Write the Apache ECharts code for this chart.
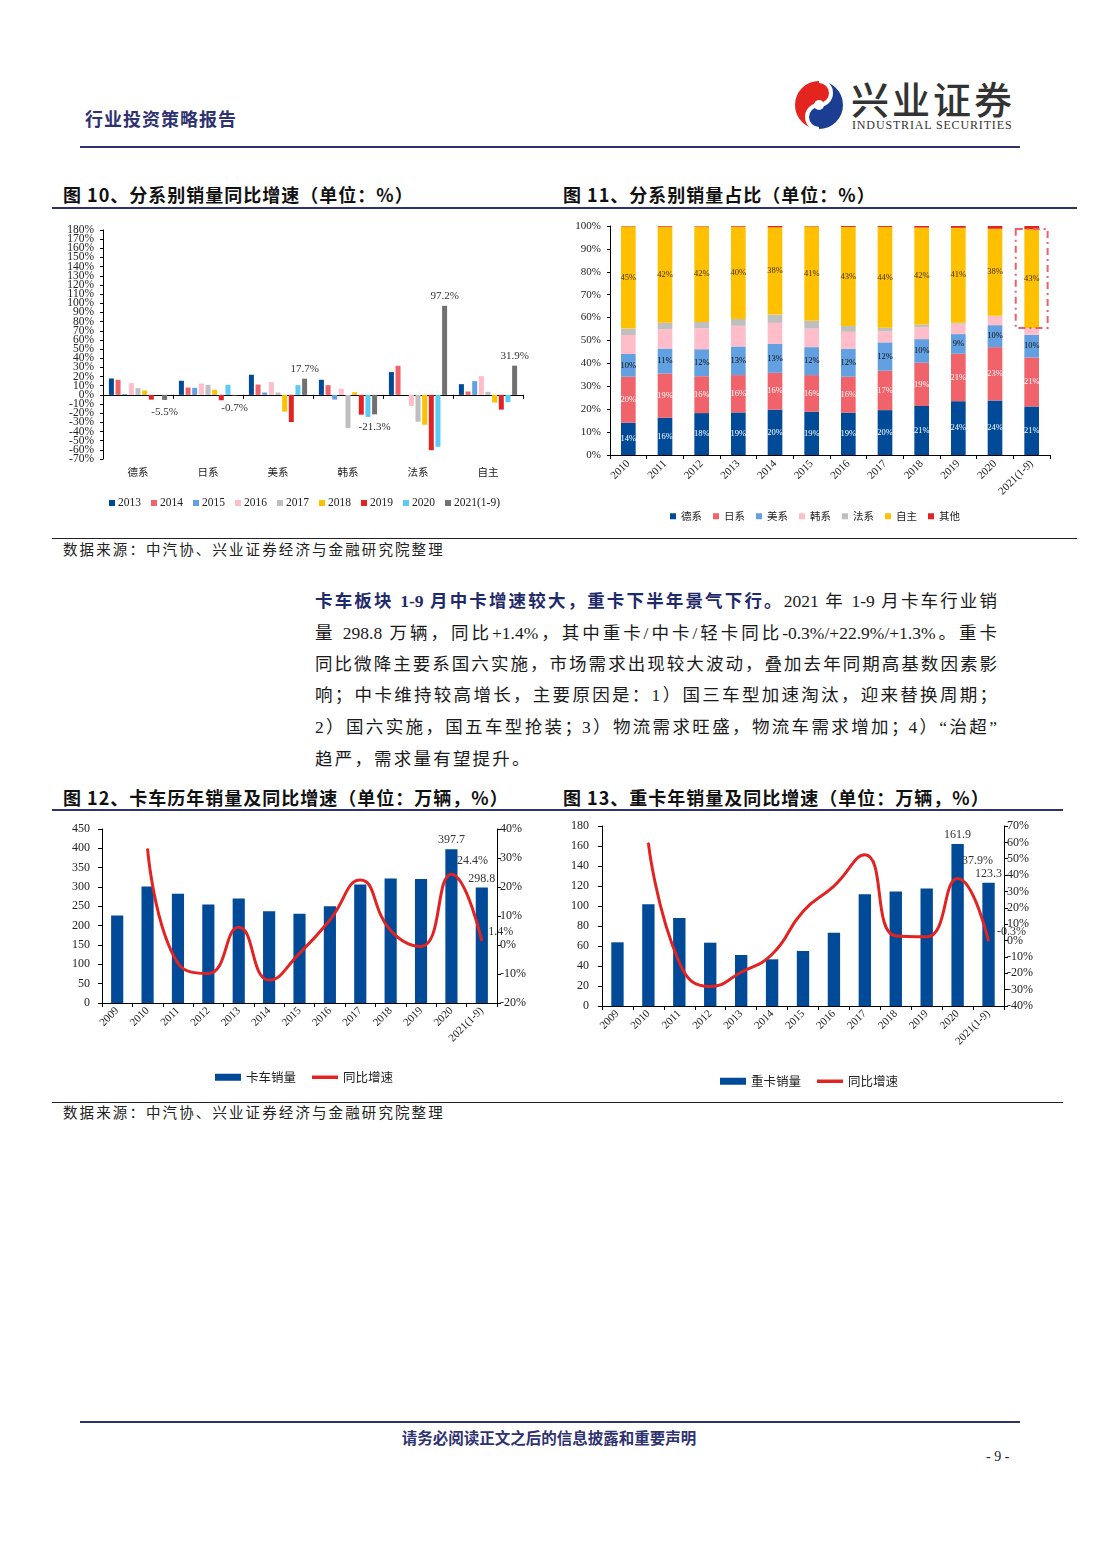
<!DOCTYPE html>
<html><head><meta charset="utf-8">
<script src="https://cdn.jsdelivr.net/npm/echarts@6/dist/echarts.min.js"></script>
<style>
html,body{margin:0;padding:0;background:#fff;}
body{width:1102px;height:1559px;position:relative;overflow:hidden;font-family:"Liberation Serif","Noto Sans CJK SC",serif;color:#111;}
.a{position:absolute;white-space:nowrap;}
.rule{position:absolute;background:#2F3271;}
.thin{position:absolute;background:#222;height:1px;}
.title{position:absolute;font-family:"Noto Sans CJK SC",sans-serif;font-weight:700;font-size:18px;line-height:22px;letter-spacing:1px;color:#111;white-space:nowrap;}
.src{position:absolute;font-family:"Liberation Serif","Noto Sans CJK SC";font-size:14.5px;line-height:20px;letter-spacing:2.1px;color:#222;white-space:nowrap;}
.pl{position:absolute;left:315px;width:682px;font-size:17.5px;line-height:24px;text-align:justify;text-align-last:justify;color:#1a1a1a;font-family:"Liberation Serif","Noto Sans CJK SC";}
.pl b{color:#1F2A6B;font-weight:700;}
.chart{position:absolute;}
</style></head><body>

<div class="a" style="left:85px;top:106px;font-family:'Noto Sans CJK SC';font-weight:700;font-size:18px;line-height:24px;color:#2F3271;letter-spacing:1px;">行业投资策略报告</div>
<svg class="a" style="left:794px;top:80px" width="50" height="50" viewBox="0 0 50 50">
  <path d="M25,1 A24,24 0 0,0 25,49 A12,12 0 0,1 25,25 A12,12 0 0,0 25,1 Z" fill="#E3241F"/>
  <path d="M25,1 A24,24 0 0,1 25,49 A12,12 0 0,1 25,25 A12,12 0 0,0 25,1 Z" fill="#1B3E93"/>
  <path d="M25,1 A12,12 0 0,1 25,25 A12,12 0 0,0 25,49" fill="none" stroke="#fff" stroke-width="4"/>
  <circle cx="25" cy="25" r="5" fill="#fff"/>
</svg>
<div class="a" style="left:851px;top:77px;font-family:'Noto Sans CJK SC';font-weight:500;font-size:38px;line-height:42px;letter-spacing:3px;color:#333;">兴业证券</div>
<div class="a" style="left:852px;top:118px;font-family:'Liberation Serif';font-size:12px;line-height:14px;letter-spacing:0.85px;color:#333;">INDUSTRIAL SECURITIES</div>
<div class="rule" style="left:80px;top:146px;width:940px;height:2px;"></div>

<div class="title" style="left:63px;top:183px;">图 10、分系别销量同比增速（单位：%）</div>
<div class="title" style="left:563px;top:183px;">图 11、分系别销量占比（单位：%）</div>
<div class="rule" style="left:52px;top:207px;width:1025px;height:2px;"></div>

<div id="c10" class="chart" style="left:52px;top:215px;width:480px;height:305px;"></div>
<div id="c11" class="chart" style="left:555px;top:212px;width:520px;height:320px;"></div>

<div class="thin" style="left:52px;top:538px;width:1025px;"></div>
<div class="src" style="left:63px;top:540px;">数据来源：中汽协、兴业证券经济与金融研究院整理</div>

<div class="pl" style="top:589px;"><b>卡车板块 1-9 月中卡增速较大，重卡下半年景气下行。</b>2021 年 1-9 月卡车行业销</div>
<div class="pl" style="top:621px;">量 298.8 万辆，同比+1.4%，其中重卡/中卡/轻卡同比-0.3%/+22.9%/+1.3%。重卡</div>
<div class="pl" style="top:652px;">同比微降主要系国六实施，市场需求出现较大波动，叠加去年同期高基数因素影</div>
<div class="pl" style="top:683px;">响；中卡维持较高增长，主要原因是：1）国三车型加速淘汰，迎来替换周期；</div>
<div class="pl" style="top:715px;">2）国六实施，国五车型抢装；3）物流需求旺盛，物流车需求增加；4）“治超”</div>
<div class="pl" style="top:747px;text-align:left;text-align-last:left;letter-spacing:2.2px;">趋严，需求量有望提升。</div>

<div class="title" style="left:63px;top:786px;">图 12、卡车历年销量及同比增速（单位：万辆，%）</div>
<div class="title" style="left:563px;top:786px;">图 13、重卡年销量及同比增速（单位：万辆，%）</div>
<div class="rule" style="left:52px;top:809px;width:1011px;height:2px;"></div>

<div id="c12" class="chart" style="left:52px;top:815px;width:480px;height:280px;"></div>
<div id="c13" class="chart" style="left:555px;top:812px;width:510px;height:285px;"></div>

<div class="thin" style="left:52px;top:1102px;width:1011px;"></div>
<div class="src" style="left:63px;top:1103px;">数据来源：中汽协、兴业证券经济与金融研究院整理</div>

<div class="rule" style="left:80px;top:1421px;width:940px;height:2px;"></div>
<div class="a" style="left:0;width:1098px;text-align:center;top:1427px;font-family:'Noto Sans CJK SC';font-weight:700;font-size:15.5px;line-height:20px;color:#2F3271;">请务必阅读正文之后的信息披露和重要声明</div>
<div class="a" style="left:986px;top:1448px;font-family:'Liberation Serif';font-size:14px;line-height:18px;color:#222;">- 9 -</div>

<script>
// ---------- Fig 10 data: YoY growth by brand origin (%) ----------
const brands = ['德系','日系','美系','韩系','法系','自主'];
const yoyYears = ['2013','2014','2015','2016','2017','2018','2019','2020','2021(1-9)'];
const yoy2013 = [17.9, 15.4, 22.0, 16.5, 24.9, 11.7];
const yoy2014 = [16.5, 8.0, 11.3, 10.6, 31.8, 3.7];
const yoy2015 = [1.0, 7.7, 2.6, -5.1, 0, 15.0];
const yoy2016 = [12.8, 12.4, 13.9, 6.6, -12.1, 20.5];
const yoy2017 = [7.3, 11.0, 2.6, -36.2, -29.3, 3.3];
const yoy2018 = [4.8, 5.5, -18.3, 2.9, -32.6, -8.4];
const yoy2019 = [-5.2, -5.9, -29.6, -21.6, -60.4, -16.1];
const yoy2020 = [0, 11.0, 10.6, -24.1, -56.7, -8.0];
const yoy2021 = [-5.5, -0.7, 17.7, -21.3, 97.2, 31.9];

// ---------- Fig 11 data: share by brand origin (%) ----------
const shareYears = ['2010','2011','2012','2013','2014','2015','2016','2017','2018','2019','2020','2021(1-9)'];
const shareDE    = [14.1,16.3,18.3,18.6,19.8,18.9,18.5,19.6,21.4,23.5,23.8,21.2];
const shareJP    = [20.1,19.3,16.1,16.3,16.1,16.0,15.7,17.2,18.9,20.7,23.3,21.4];
const shareUS    = [9.9,10.9,11.8,12.5,12.6,12.2,12.2,12.4,10.3,8.6,9.6,9.9];
const shareKR    = [8.3,8.4,9.2,9.0,9.2,8.1,7.4,4.8,5.2,4.5,3.9,2.9];
const shareFR    = [2.8,2.9,2.7,3.0,3.6,3.4,2.5,1.6,1.2,0.5,0.2,0.1];
const shareOwn   = [44.6,41.9,41.7,40.3,38.1,41.2,43.3,44.0,42.3,41.4,38.0,43.2];
const shareOther = [0.2,0.3,0.2,0.3,0.6,0.2,0.4,0.4,0.7,0.8,1.2,1.3];
const shareNames = ['德系','日系','美系','韩系','法系','自主','其他'];

// ---------- Fig 12 data: truck sales (万辆) & YoY (%) ----------
const truckYears = ['2009','2010','2011','2012','2013','2014','2015','2016','2017','2018','2019','2020','2021(1-9)'];
const truckSales = [226.3,301.4,282.4,254.7,270.3,237.5,230.6,250.4,306.6,322.1,320.4,397.7,298.8];
const truckYoy   = [null,33.2,-6.3,-9.8,6.1,-12.1,-2.9,8.6,22.4,5.0,-0.5,24.4,1.4];

// ---------- Fig 13 data: heavy truck sales (万辆) & YoY (%) ----------
const heavySales = [63.7,101.7,88.0,63.3,51.0,46.7,55.0,73.3,111.7,114.5,117.4,161.9,123.3];
const heavyYoy   = [null,59.7,-13.5,-28.1,-19.4,-8.4,17.8,33.3,52.4,2.8,2.3,37.9,-0.3];

const SERIF = 'Liberation Serif', CJK = 'Noto Sans CJK SC', TXT = '#222';
const axisLineBlack = {show:true, lineStyle:{color:'#000', width:1}};

// ===== Chart 10 =====
(function(){
  const colors = ['#004A97','#F0636A','#63A0E1','#FFBDC9','#BFBFBF','#FFC000','#E32322','#5BCBF5','#717171'];
  const sets = [yoy2013,yoy2014,yoy2015,yoy2016,yoy2017,yoy2018,yoy2019,yoy2020,yoy2021];
  const c = echarts.init(document.getElementById('c10'));
  // labels are split over two stacked left axes (every other tick each) so the dense 10% ticks all stay visible
  const lab = (keepEven)=>({margin:9, hideOverlap:false, fontFamily:SERIF, fontSize:11.5, color:TXT,
    formatter:v=>{ const r=Math.abs(Math.round(v))%20; return (keepEven ? r===0 : r===10) ? v+'%' : ''; }});
  c.setOption({
    animation:false,
    grid:{left:51, top:15, width:420, height:229},
    legend:{top:277, left:52, icon:'rect', itemWidth:6, itemHeight:6, itemGap:10,
      textStyle:{fontFamily:SERIF, fontSize:11.5, color:TXT, padding:[0,0,0,-2]}, data:yoyYears},
    xAxis:[
      {type:'category', data:brands, axisLine:{show:true, onZero:true, onZeroAxisIndex:0, lineStyle:{color:'#000'}},
       axisTick:{show:true, length:4, lineStyle:{color:'#000'}}, axisLabel:{show:false}, splitLine:{show:false}},
      {type:'category', data:brands, position:'bottom', axisLine:{show:false, onZero:false}, axisTick:{show:false},
       axisLabel:{show:true, interval:0, fontFamily:CJK, fontSize:10.5, color:TXT, margin:8}, splitLine:{show:false}}
    ],
    yAxis:[
      {type:'value', position:'left', min:-70, max:180, interval:10, axisLine:axisLineBlack,
       axisTick:{show:true, length:3, lineStyle:{color:'#000'}}, splitLine:{show:false}, axisLabel:lab(true)},
      {type:'value', position:'left', offset:0, min:-70, max:180, interval:10, axisLine:{show:false},
       axisTick:{show:false}, splitLine:{show:false}, axisLabel:lab(false)}
    ],
    series: yoyYears.map((y,i)=>({
      name:y, type:'bar', xAxisIndex:0, yAxisIndex:0, barWidth:5, barGap:'33%',
      itemStyle:{color:colors[i]},
      label:{show:false, formatter:'{c}%', fontFamily:SERIF, fontSize:11, color:'#333'},
      data: i===8 ? sets[i].map(v=>({value:v, label:{show:true, position: v<0?'bottom':'top', distance: v<0?7:4}})) : sets[i]
    }))
  });
})();

// ===== Chart 11 =====
(function(){
  const colors = ['#004A97','#F0636A','#63A0E1','#FFBDC9','#BFBFBF','#FFC000','#E32322'];
  const sets = [shareDE,shareJP,shareUS,shareKR,shareFR,shareOwn,shareOther];
  const labelColors = ['#fff','#fff','#111',null,null,'#3b3320',null];
  const c = echarts.init(document.getElementById('c11'));
  c.setOption({
    animation:false,
    grid:{left:55, top:14, width:440, height:229},
    legend:{top:294, left:'center', icon:'rect', itemWidth:6, itemHeight:6, itemGap:11,
      textStyle:{fontFamily:CJK, fontSize:10.5, color:TXT}, data:shareNames},
    xAxis:{type:'category', data:shareYears, axisLine:axisLineBlack,
      axisTick:{show:true, length:4, lineStyle:{color:'#000'}},
      axisLabel:{interval:0, rotate:45, fontFamily:SERIF, fontSize:11, color:TXT, margin:7}},
    yAxis:{type:'value', min:0, max:100, interval:10, axisLine:axisLineBlack,
      axisTick:{show:true, length:3, lineStyle:{color:'#000'}}, splitLine:{show:false},
      axisLabel:{formatter:'{value}%', fontFamily:SERIF, fontSize:11, color:TXT, margin:9, showMinLabel:true, showMaxLabel:true}},
    series: shareNames.map((n,i)=>({
      name:n, type:'bar', stack:'s', barWidth:'40%', data:sets[i],
      itemStyle:{color:colors[i]},
      label:{show: !!labelColors[i], position:'inside', color:labelColors[i]||'#000',
        fontFamily:SERIF, fontSize:8.5, formatter:p=>Math.round(p.value)+'%'}
    }))
  });
  // dashed highlight box around the 2021(1-9) 自主 segment, positioned via the chart's own scales
  const last = shareYears.length-1;
  const base = shareDE[last]+shareJP[last]+shareUS[last]+shareKR[last]+shareFR[last];
  const top = base + shareOwn[last];
  const p0 = c.convertToPixel({seriesIndex:0}, [last, top]);
  const p1 = c.convertToPixel({seriesIndex:0}, [last, base]);
  const pPrev = c.convertToPixel({seriesIndex:0}, [last-1, base]);
  const w = (p0[0]-pPrev[0])*0.87;
  c.setOption({graphic:[{type:'rect', z:100, shape:{x:p0[0]-w/2, y:p0[1], width:w, height:p1[1]-p0[1]},
    style:{fill:'none', stroke:'#EE5F68', lineWidth:2, lineDash:[7,4,2,4]}}]});
})();

// ===== Chart 12 & 13 helper =====
function comboChart(el, opt){
  const c = echarts.init(document.getElementById(el));
  const n = opt.sales.length;
  c.setOption({
    animation:false,
    grid:opt.grid,
    legend:{top:opt.legendTop, left:opt.legendLeft, itemWidth:26, itemHeight:7, itemGap:16,
      textStyle:{fontFamily:CJK, fontSize:12.5, color:TXT},
      data:[{name:opt.barName, icon:'rect'}, {name:'同比增速', icon:'path://M0,0H30V4H0Z'}]},
    xAxis:{type:'category', data:truckYears, axisLine:axisLineBlack,
      axisTick:{show:true, length:4, lineStyle:{color:'#000'}},
      axisLabel:{interval:0, rotate:45, fontFamily:SERIF, fontSize:11, color:TXT, margin:6}},
    yAxis:[
      {type:'value', min:0, max:opt.lmax, interval:opt.lint, axisLine:axisLineBlack,
       axisTick:{show:true, length:4, lineStyle:{color:'#000'}}, splitLine:{show:false},
       axisLabel:{fontFamily:SERIF, fontSize:12, color:TXT, margin:opt.lmargin, showMinLabel:true, showMaxLabel:true}},
      {type:'value', position:'right', min:opt.rmin, max:opt.rmax, interval:10, axisLine:axisLineBlack,
       axisTick:{show:true, length:4, lineStyle:{color:'#000'}}, splitLine:{show:false},
       axisLabel:{formatter:'{value}%', fontFamily:SERIF, fontSize:12, color:TXT, margin:3, showMinLabel:true, showMaxLabel:true}}
    ],
    series:[
      {name:opt.barName, type:'bar', barWidth:'40%', itemStyle:{color:'#004A97'},
       label:{show:false, position:'top', distance:3, fontFamily:SERIF, fontSize:12, color:'#333'},
       data:opt.sales.map((v,i)=> i>=n-2 ? {value:v, label:{show:true}} : v)},
      {name:'同比增速', type:'line', yAxisIndex:1, smooth:0.5, symbol:'circle', symbolSize:1, showSymbol:true,
       lineStyle:{color:'#E32322', width:3}, itemStyle:{color:'#E32322'},
       label:{show:false, formatter:'{c}%', fontFamily:SERIF, fontSize:12, color:'#333'},
       labelLayout: opt.labelLayout,
       data:opt.yoy.map((v,i)=> i===n-2 ? {value:v, label:Object.assign({show:true}, opt.lab1)}
                              : i===n-1 ? {value:v, label:Object.assign({show:true}, opt.lab2)} : v)}
    ]
  });
  return c;
}

comboChart('c12', {grid:{left:50, top:14, width:395, height:174}, legendTop:251, legendLeft:158, barName:'卡车销量',
  sales:truckSales, yoy:truckYoy, lmax:450, lint:50, rmin:-20, rmax:40, lmargin:12,
  lab1:{position:'right', distance:5, offset:[0,-13]}, lab2:{position:'right', distance:6, offset:[0,-9]}});

comboChart('c13', {grid:{left:47, top:14, width:402, height:180}, legendTop:258, legendLeft:160, barName:'重卡销量',
  sales:heavySales, yoy:heavyYoy, lmax:180, lint:20, rmin:-40, rmax:70, lmargin:13,
  lab1:{position:'top', distance:4},
  lab2:{position:'right', distance:8},
  labelLayout:function(p){
    if (p.seriesIndex!==1) return {};
    if (p.dataIndex===heavyYoy.length-2) return {dx:20, dy:-7};
    if (p.dataIndex===heavyYoy.length-1) return {dy:-9};
    return {};
  }});
</script>
</body></html>
